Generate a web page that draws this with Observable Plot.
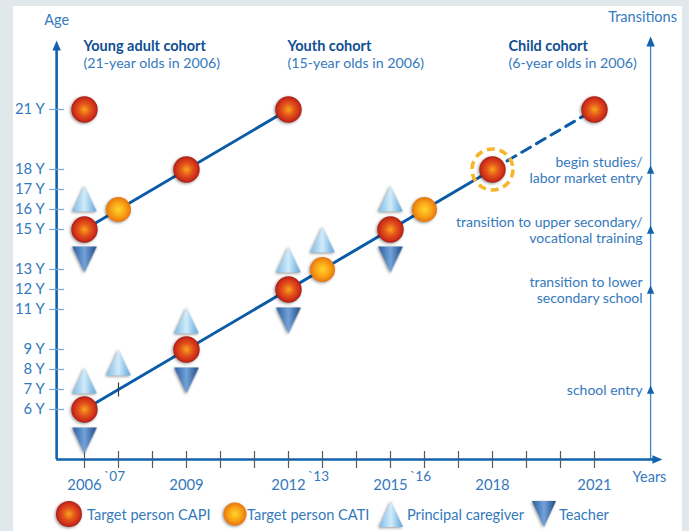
<!DOCTYPE html>
<html>
<head>
<meta charset="utf-8">
<script src="https://cdn.jsdelivr.net/npm/d3@7"></script>
<script src="https://cdn.jsdelivr.net/npm/@observablehq/plot@0.6"></script>
<style>
  html, body { margin: 0; padding: 0; }
  body { width: 689px; height: 531px; background: #e1e8ec; position: relative; overflow: hidden; font-family: Lato, "Open Sans", sans-serif; }
  #panel { position: absolute; left: 13px; top: 6px; width: 669px; height: 530px; background: #ffffff; }
  #chart { position: absolute; left: 0; top: 0; width: 689px; }
  .sh { filter: drop-shadow(-1px 1.5px 1.6px rgba(0,0,0,0.42)); }
  #legend { position: relative; width: 689px; height: 34px; }
  .item { position: absolute; top: 0; height: 34px; display: flex; align-items: center; color: #3479bd; font-size: 14.6px; }
  .item svg { overflow: visible; }
</style>
</head>
<body>
<svg width="0" height="0" style="position:absolute">
  <defs>
    <radialGradient id="gCapi" cx="50%" cy="50%" r="50%">
      <stop offset="0" stop-color="#f8a51c"/>
      <stop offset="0.45" stop-color="#e4561b"/>
      <stop offset="0.85" stop-color="#cc2c18"/>
      <stop offset="1" stop-color="#a61f19"/>
    </radialGradient>
    <radialGradient id="gCati" cx="50%" cy="50%" r="50%">
      <stop offset="0" stop-color="#ffd52c"/>
      <stop offset="0.55" stop-color="#f9a516"/>
      <stop offset="1" stop-color="#e9760e"/>
    </radialGradient>
    <linearGradient id="gCare" x1="0" y1="0" x2="1" y2="0">
      <stop offset="0" stop-color="#7cbce8"/>
      <stop offset="0.5" stop-color="#d2ecfa"/>
      <stop offset="1" stop-color="#5ca5db"/>
    </linearGradient>
    <linearGradient id="gTeach" x1="0" y1="0" x2="1" y2="0">
      <stop offset="0" stop-color="#2b5c9f"/>
      <stop offset="0.5" stop-color="#73a3d8"/>
      <stop offset="1" stop-color="#1d4886"/>
    </linearGradient>
  </defs>
</svg>
<div id="panel"></div>
<div id="chart"></div>
<script>
// ---------- data ----------
const ageTicks = [6, 7, 8, 9, 11, 12, 13, 15, 16, 17, 18, 21];
const yearTicks = [2006, 2007, 2008, 2009, 2010, 2011, 2012, 2013, 2014, 2015, 2016, 2017, 2018, 2019, 2020, 2021];
const majorYearLabels = [2006, 2009, 2012, 2015, 2018, 2021];
const minorYearPositions = [2007, 2013, 2016];
const minorYearLabels = ["`07", "`13", "`16"];

const capiYears = [2006, 2006, 2009, 2012, 2006, 2009, 2012, 2015, 2018, 2021];
const capiAges  = [21, 15, 18, 21, 6, 9, 12, 15, 18, 21];
const catiYears = [2007, 2013, 2016];
const catiAges  = [16, 13, 16];
const caregiverYears = [2006, 2006, 2007, 2009, 2012, 2013, 2015];
const caregiverAges  = [16.55, 7.45, 8.35, 10.45, 13.5, 14.5, 16.55];
const teacherYears = [2006, 2006, 2009, 2012, 2015];
const teacherAges  = [13.5, 4.45, 7.45, 10.45, 13.5];

const youthLineYears = [2006, 2012];
const youthLineAges  = [15, 21];
const childLineYears = [2006, 2018];
const childLineAges  = [6, 18];
const childProjYears = [2018, 2021];
const childProjAges  = [18, 21];
const highlightYears = [2018];
const highlightAges  = [18];
const phoneTickYears = [2007];
const phoneTickAges  = [7];

const cohortNames = ["Young adult cohort", "Youth cohort", "Child cohort"];
const cohortNotes = ["(21-year olds in 2006)", "(15-year olds in 2006)", "(6-year olds in 2006)"];
const cohortYears = [2006, 2012, 2018.5];

const transitionAges = [18, 15, 12, 7];
const transitionLabels = ["begin studies/\nlabor market entry", "transition to upper secondary/\nvocational training", "transition to lower\nsecondary school", "school entry"];

// axis geometry (in data units)
const leftAxisYear = 2005.18;
const rightAxisYear = 2022.65;
const xAxisEndYear = 2022.85;
const baseAge = 3.5;
const leftAxisTopAge = 24.2;
const rightAxisTopAge = 24.4;
const titleAge = 24.15;
const noteAge = 23.3;

// ---------- helpers ----------
const pts = (xs, ys) => xs.map((x, i) => ({x, y: ys[i]}));
function tri(wr, hr, down) {
  return {draw(ctx, size) {
    const r = Math.sqrt(size / Math.PI), w = r * wr, h = r * hr, s = down ? -1 : 1;
    ctx.moveTo(0, -s * h / 2); ctx.lineTo(w / 2, s * h / 2); ctx.lineTo(-w / 2, s * h / 2); ctx.closePath();
  }};
}
const hline = {draw(ctx, size) { const r = Math.sqrt(size / Math.PI); ctx.moveTo(-r, 0); ctx.lineTo(r, 0); }};
const vline = {draw(ctx, size) { const r = Math.sqrt(size / Math.PI); ctx.moveTo(0, -r); ctx.lineTo(0, r); }};
const triUp = tri(1.9, 2.0, false);
const triDown = tri(1.9, 2.0, true);
const arrowUp = tri(1.7, 2.0, false);
const arrowRight = {draw(ctx, size) { const r = Math.sqrt(size / Math.PI); ctx.moveTo(r, 0); ctx.lineTo(-r, -0.85 * r); ctx.lineTo(-r, 0.85 * r); ctx.closePath(); }};

const axisColor = "#1262ad";
const labelColor = "#3479bd";
const lineColor = "#0b5ba8";

const chart = Plot.plot({
  width: 689,
  height: 497,
  x: {domain: [2006, 2021], range: [84, 594], axis: null},
  y: {domain: [6, 21], range: [409, 109], axis: null},
  style: {fontFamily: "Lato, 'Open Sans', sans-serif", background: "transparent", overflow: "visible"},
  marks: [
    // axes
    Plot.ruleX([leftAxisYear], {x: d => d, y1: () => baseAge, y2: () => leftAxisTopAge, stroke: axisColor, strokeWidth: 2.6}),
    Plot.ruleX([rightAxisYear], {x: d => d, y1: () => baseAge, y2: () => rightAxisTopAge, stroke: "#3f85c8", strokeWidth: 1.3}),
    Plot.ruleY([baseAge], {y: d => d, x1: () => leftAxisYear, x2: () => xAxisEndYear, stroke: axisColor, strokeWidth: 2.6}),
    Plot.dot([leftAxisYear], {x: d => d, y: () => leftAxisTopAge, symbol: arrowUp, r: 5, fill: axisColor}),
    Plot.dot([rightAxisYear], {x: d => d, y: () => rightAxisTopAge, symbol: arrowUp, r: 5, fill: axisColor}),
    Plot.dot([xAxisEndYear], {x: d => d, y: () => baseAge, symbol: arrowRight, r: 5, fill: axisColor}),
    Plot.dot(transitionAges, {x: () => rightAxisYear, y: d => d, symbol: arrowUp, r: 4.3, fill: axisColor}),
    // ticks
    Plot.dot(ageTicks, {x: () => leftAxisYear, y: d => d, symbol: hline, r: 7.5, stroke: "#7ea9d3", strokeWidth: 1.3}),
    Plot.dot(yearTicks, {x: d => d, y: () => baseAge, symbol: vline, r: 8.5, stroke: "#555b63", strokeWidth: 1.2}),
    // tick labels
    Plot.text(ageTicks, {x: () => leftAxisYear, y: d => d, text: d => `${d} Y`, textAnchor: "end", dx: -12, fontSize: 14.8, fill: labelColor}),
    Plot.text(majorYearLabels, {x: d => d, y: () => baseAge, text: d => `${d}`, dy: 26, fontSize: 14.8, fill: labelColor}),
    Plot.text(minorYearLabels, {x: (d, i) => minorYearPositions[i], y: () => baseAge, text: d => d, dx: -4, dy: 17, fontSize: 13.5, fill: labelColor}),
    Plot.text(["Years"], {x: () => xAxisEndYear, y: () => baseAge, text: d => d, textAnchor: "end", dx: 9, dy: 18, fontSize: 14.5, fill: labelColor}),
    Plot.text(["Age"], {x: () => leftAxisYear, y: () => leftAxisTopAge, text: d => d, dy: -25, fontSize: 14.5, fill: labelColor}),
    Plot.text(["Transitions"], {x: () => rightAxisYear, y: () => rightAxisTopAge, text: d => d, dx: -8, dy: -24, fontSize: 14.5, fill: labelColor}),
    // transition labels
    Plot.text(transitionLabels, {x: () => rightAxisYear, y: (d, i) => transitionAges[i], text: d => d, textAnchor: "end", dx: -8, lineHeight: 1.18, fontSize: 14, fill: labelColor}),
    // cohort headers
    Plot.text(cohortNames, {x: (d, i) => cohortYears[i], y: () => titleAge, text: d => d, textAnchor: "start", dx: -1, fontSize: 14.5, fontWeight: "bold", fill: "#0f4f92"}),
    Plot.text(cohortNotes, {x: (d, i) => cohortYears[i], y: () => noteAge, text: d => d, textAnchor: "start", dx: -1, fontSize: 14.2, fill: labelColor}),
    // cohort lines
    Plot.line(pts(youthLineYears, youthLineAges), {x: "x", y: "y", stroke: lineColor, strokeWidth: 3}),
    Plot.line(pts(childLineYears, childLineAges), {x: "x", y: "y", stroke: lineColor, strokeWidth: 3}),
    Plot.line(pts(childProjYears, childProjAges), {x: "x", y: "y", stroke: lineColor, strokeWidth: 3, strokeDasharray: "10 7"}),
    Plot.dot(pts(phoneTickYears, phoneTickAges), {x: "x", y: "y", symbol: vline, r: 7, stroke: "#333a44", strokeWidth: 1.2}),
    // highlight ring
    Plot.dot(pts(highlightYears, highlightAges), {x: "x", y: "y", r: 20.5, fill: "white", fillOpacity: 0, stroke: "#f7b52a", strokeWidth: 3.6, strokeDasharray: "8 4.9"}),
    // survey points
    Plot.dot(pts(caregiverYears, caregiverAges), {x: "x", y: "y", symbol: triUp, r: 13, fill: "url(#gCare)", className: "sh"}),
    Plot.dot(pts(teacherYears, teacherAges), {x: "x", y: "y", symbol: triDown, r: 13, fill: "url(#gTeach)", className: "sh"}),
    Plot.dot(pts(catiYears, catiAges), {x: "x", y: "y", r: 12.5, fill: "url(#gCati)", className: "sh"}),
    Plot.dot(pts(capiYears, capiAges), {x: "x", y: "y", r: 13.2, fill: "url(#gCapi)", className: "sh"})
  ]
});
document.getElementById("chart").appendChild(chart);

// ---------- legend ----------
const legendItems = [
  {label: "Target person CAPI", icon: '<circle r="13" fill="url(#gCapi)"/>', iconLeft: 55, textLeft: 87},
  {label: "Target person CATI", icon: '<circle r="11.5" fill="url(#gCati)"/>', iconLeft: 221, textLeft: 247},
  {label: "Principal caregiver", icon: '<path d="M0,-13L12,13L-12,13Z" fill="url(#gCare)"/>', iconLeft: 377, textLeft: 407},
  {label: "Teacher", icon: '<path d="M0,13L12,-13L-12,-13Z" fill="url(#gTeach)"/>', iconLeft: 530, textLeft: 559}
];
const legend = document.createElement("div");
legend.id = "legend";
for (const it of legendItems) {
  const ic = document.createElement("div");
  ic.className = "item";
  ic.style.left = it.iconLeft + "px";
  ic.innerHTML = `<svg width="28" height="28" viewBox="-14 -14 28 28"><g class="sh">${it.icon}</g></svg>`;
  legend.appendChild(ic);
  const tx = document.createElement("div");
  tx.className = "item";
  tx.style.left = it.textLeft + "px";
  tx.textContent = it.label;
  legend.appendChild(tx);
}
document.getElementById("chart").appendChild(legend);
</script>
</body>
</html>
